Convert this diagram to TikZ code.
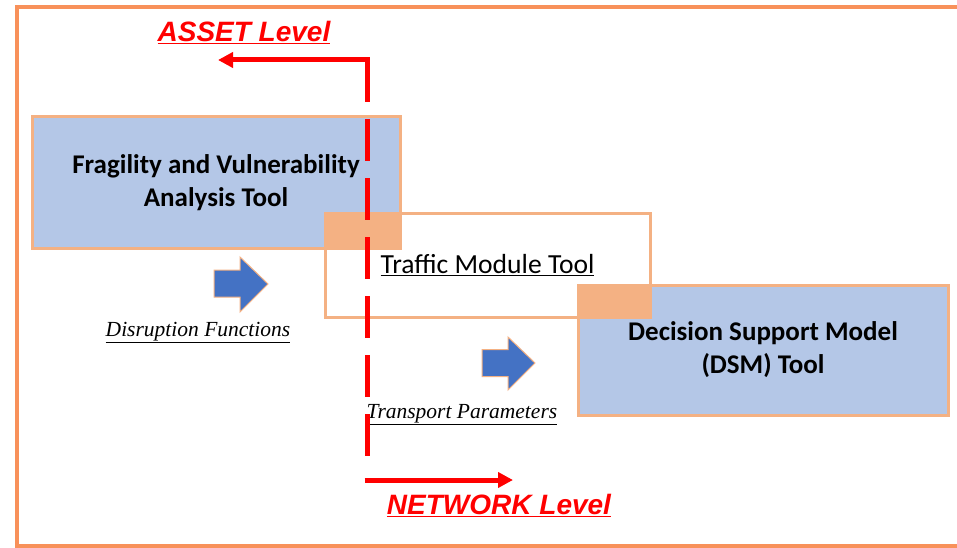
\documentclass[tikz,border=0pt]{standalone}
\usepackage{fontspec}
\usetikzlibrary{arrows.meta}
\newfontfamily\calib{Carlito}
\newfontfamily\arialf{Liberation Sans}
\newfontfamily\timesf{Liberation Serif}
\definecolor{framec}{HTML}{F8915A}
\definecolor{peach}{HTML}{F4B183}
\definecolor{boxblue}{HTML}{B4C7E7}
\definecolor{arrowblue}{HTML}{4472C4}
\definecolor{redc}{HTML}{FF0000}
\begin{document}
\begin{tikzpicture}[x=1pt,y=-1pt,
  toolbox/.style={draw=peach, line width=3pt, fill=boxblue, inner sep=0pt, align=center,
    font=\calib\bfseries\fontsize{27}{33}\selectfont},
  trafficbox/.style={draw=peach, line width=3pt, fill=white, inner sep=0pt,
    font=\calib\fontsize{27.6}{33}\selectfont},
  redline/.style={draw=redc, line width=5pt},
  redtip/.style={-{Triangle[length=15pt,width=15pt]}},
  levellabel/.style={text=redc, inner sep=0pt, font=\arialf\bfseries\itshape\fontsize{28}{32}\selectfont},
  flowlabel/.style={inner sep=0pt, font=\timesf\itshape\fontsize{21.5}{24}\selectfont},
  bluearrow/.style={fill=arrowblue, draw=peach, line width=1pt, line join=miter}
]
\useasboundingbox (0,0) rectangle (957,548);
\fill[white] (0,0) rectangle (957,548);
\draw[framec, line width=4pt] (17,7) rectangle (975,546);

% boxes
\node[toolbox, minimum width=368, minimum height=131] (frag) at (216,182.5)
  {Fragility and Vulnerability\\Analysis Tool};
\node[trafficbox, minimum width=325, minimum height=104] (traffic) at (487.5,265)
  {\underline{Traffic Module Tool}};
\fill[peach] (traffic.north west) rectangle (frag.south east);
\node[toolbox, minimum width=370, minimum height=130] (dsm) at (763,350)
  {Decision Support Model\\(DSM) Tool};
\fill[peach] (dsm.north west) rectangle (traffic.south east);

% blue arrows
\draw[bluearrow] (214,270) -- (240,270) -- (240,257) -- (268,284) -- (240,312) -- (240,297) -- (214,297) -- cycle;
\draw[bluearrow] (482,349.5) -- (508,349.5) -- (508,337) -- (535,363) -- (508,390) -- (508,376.5) -- (482,376.5) -- cycle;

% labels
\node[flowlabel, anchor=base] (disr) at (198,336) {\underline{Disruption Functions}};
\node[flowlabel, anchor=base] (trans) at (462,418) {\underline{Transport Parameters}};
\node[levellabel, anchor=base] (asset) at (244,41.5) {\underline{ASSET Level}};
\node[levellabel, anchor=base] (network) at (499,514.5) {\underline{NETWORK Level}};

% red level lines
\coordinate (vtop) at (367,60);
\coordinate (vbot) at (367,468);
\coordinate (corner) at (369.5,60);
\coordinate (leftend) at (218,60);
\coordinate (bstart) at (364.5,480);
\coordinate (rightend) at (513,480);
\draw[redline, dash pattern=on 42pt off 17pt] (vtop) -- (vbot);
\draw[redline, redtip] (corner) -- (leftend);
\draw[redline, redtip] (bstart) -- (rightend);
\end{tikzpicture}
\end{document}
